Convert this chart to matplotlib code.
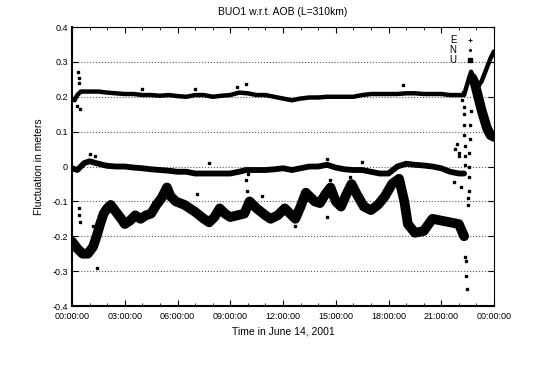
import numpy as np
from matplotlib import pyplot as plt

nan = np.nan

# E component (top band, around 0.2 m)
e_t = [0.0, 0.15, 0.3, 0.5, 1.0, 1.5, 2.0, 2.5, 3.0, 3.5, 4.0, 4.5, 5.0, 5.5, 6.0,
       6.5, 7.0, 7.5, 8.0, 8.5, 9.0, 9.5, 10.0, 10.5, 11.0, 11.5, 12.0, 12.5, 13.0,
       13.5, 14.0, 14.5, 15.0, 15.5, 16.0, 16.5, 17.0, 17.5, 18.0, 18.5, 19.0, 19.5,
       20.0, 20.5, 21.0, 21.5, 22.0, 22.3, 22.5, 22.7, 22.9, 23.1, 23.3, 23.6, 23.8, 24.0]
e_v = [0.195, 0.19, 0.205, 0.215, 0.215, 0.215, 0.212, 0.21, 0.208, 0.208, 0.205, 0.205,
       0.203, 0.205, 0.202, 0.2, 0.205, 0.205, 0.2, 0.203, 0.205, 0.212, 0.21, 0.205,
       0.205, 0.2, 0.195, 0.19, 0.195, 0.198, 0.198, 0.2, 0.2, 0.2, 0.2, 0.205, 0.208,
       0.208, 0.208, 0.208, 0.21, 0.21, 0.208, 0.208, 0.208, 0.205, 0.205, 0.205,
       0.24, 0.272, 0.24, 0.23, 0.245, 0.284, 0.31, 0.33]
e_out_t = [0.35, 0.4, 0.42, 0.3, 0.45, 4.0, 7.0, 9.4, 9.9, 18.8, 22.2, 22.25]
e_out_v = [0.27, 0.255, 0.24, 0.175, 0.165, 0.222, 0.222, 0.228, 0.237, 0.234, 0.19, 0.215]

# N component (middle band, around 0 m)
n_t = [0.0, 0.3, 0.7, 1.0, 1.5, 2.0, 2.5, 3.0, 3.5, 4.0, 4.5, 5.0, 5.5, 6.0, 6.5, 7.0,
       7.5, 8.0, 8.5, 9.0, 9.5, 9.9, 10.2, 10.5, 11.0, 11.5, 12.0, 12.5, 13.0, 13.5,
       14.0, 14.5, 15.0, 15.5, 16.0, 16.5, 17.0, 17.5, 18.0, 18.5, 19.0, 19.5, 20.0,
       20.5, 21.0, 21.5, 22.0, 22.3]
n_v = [-0.005, -0.01, 0.01, 0.015, 0.008, 0.002, 0.0, 0.0, -0.003, -0.005, -0.008,
       -0.01, -0.012, -0.015, -0.015, -0.02, -0.02, -0.02, -0.02, -0.02, -0.015, -0.01,
       -0.01, -0.01, -0.01, -0.008, -0.005, -0.01, -0.005, 0.0, 0.0, 0.005, -0.003,
       -0.008, -0.01, -0.01, -0.015, -0.02, -0.02, 0.0, 0.008, 0.005, 0.003, 0.0,
       -0.005, -0.015, -0.02, -0.02]
n_out_t = [1.0, 1.3, 7.8, 14.5, 16.5, 21.7, 21.8, 21.9, 22.0, 22.1, 22.0,
           22.28, 22.3, 22.3, 22.32, 22.33, 22.35, 22.35]
n_out_v = [0.035, 0.03, 0.01, 0.022, 0.012, -0.045, 0.05, 0.065, 0.04, -0.06, 0.03,
           0.17, 0.15, 0.12, 0.09, 0.06, 0.03, 0.005]

# U component (lower band, gap during the jump at ~22.5 h)
u_t = [0.0, 0.3, 0.6, 0.9, 1.2, 1.4, 1.6, 1.8, 2.0, 2.2, 2.5, 2.8, 3.0, 3.3, 3.6, 3.9,
       4.2, 4.5, 4.8, 5.1, 5.4, 5.6, 5.9, 6.4, 7.0, 7.5, 7.8, 8.1, 8.4, 8.7, 9.0, 9.4,
       9.8, 10.1, 10.5, 11.0, 11.3, 11.7, 12.1, 12.4, 12.7, 13.0, 13.3, 13.5, 13.8,
       14.1, 14.4, 14.7, 15.0, 15.3, 15.6, 15.9, 16.2, 16.6, 17.0, 17.4, 17.8, 18.2,
       18.6, 18.9, 19.1, 19.5, 20.0, 20.5, 21.0, 21.5, 22.0, 22.3, 22.5,
       22.75, 22.9, 23.1, 23.3, 23.6, 23.8, 24.0]
u_v = [-0.215, -0.235, -0.25, -0.25, -0.23, -0.2, -0.165, -0.135, -0.12, -0.11, -0.13,
       -0.15, -0.165, -0.155, -0.14, -0.15, -0.14, -0.135, -0.11, -0.09, -0.06, -0.085,
       -0.1, -0.11, -0.13, -0.15, -0.16, -0.145, -0.12, -0.135, -0.145, -0.14, -0.135,
       -0.1, -0.12, -0.14, -0.15, -0.14, -0.12, -0.135, -0.15, -0.115, -0.075, -0.085,
       -0.1, -0.105, -0.08, -0.06, -0.1, -0.115, -0.08, -0.05, -0.08, -0.115, -0.125,
       -0.11, -0.085, -0.05, -0.035, -0.1, -0.165, -0.19, -0.185, -0.15, -0.155, -0.16,
       -0.165, -0.2, nan,
       0.255, 0.24, 0.2, 0.16, 0.11, 0.09, 0.085]
u_out_t = [0.4, 0.4, 0.45, 1.2, 1.4, 7.1, 9.9, 9.95, 10.0, 10.8, 12.7, 14.5, 14.7, 14.75,
           15.8, 15.85, 18.85, 18.9, 22.35, 22.4, 22.38, 22.45, 22.5, 22.52, 22.55,
           22.56, 22.6, 22.6, 22.62, 22.65, 22.68]
u_out_v = [-0.12, -0.14, -0.16, -0.17, -0.29, -0.08, -0.04, -0.07, -0.02, -0.085,
           -0.17, -0.145, -0.04, -0.07, -0.03, -0.06, -0.07, -0.12, -0.26, -0.27,
           -0.315, -0.35, -0.11, -0.09, -0.07, -0.03, 0.0, 0.04, 0.08, 0.12, 0.16]

hours = [0, 3, 6, 9, 12, 15, 18, 21, 24]
hour_labels = ['00:00:00', '03:00:00', '06:00:00', '09:00:00', '12:00:00',
               '15:00:00', '18:00:00', '21:00:00', '00:00:00']
y_ticks = [-0.4, -0.3, -0.2, -0.1, 0, 0.1, 0.2, 0.3, 0.4]
y_labels = ['-0.4', '-0.3', '-0.2', '-0.1', '0', '0.1', '0.2', '0.3', '0.4']

plt.rcParams['font.family'] = ['Liberation Sans', 'DejaVu Sans']

fig = plt.figure(figsize=(5.56, 3.69), dpi=100)
ax = fig.add_axes([0.1295, 0.1707, 0.759, 0.756])

# noisy bands drawn as thick strokes, sparse points as small squares
ax.plot(e_t, e_v, '-', color='black', lw=3.2, solid_capstyle='round')
ax.plot(n_t, n_v, '-', color='black', lw=4.2, solid_capstyle='round')
ax.plot(u_t, u_v, '-', color='black', lw=7, solid_capstyle='round',
        solid_joinstyle='round')
ax.plot(e_out_t, e_out_v, 's', color='black', ms=1.8)
ax.plot(n_out_t, n_out_v, 's', color='black', ms=1.8)
ax.plot(u_out_t, u_out_v, 's', color='black', ms=1.8)

# legend entries only
ax.plot([], [], '+', color='black', ms=3, mew=0.7, label='E')
ax.plot([], [], '.', color='black', ms=2.5, label='N')
ax.plot([], [], 's', color='black', ms=2.2, label='U')
ax.legend(loc='upper right', bbox_to_anchor=(0.962, 0.985), markerfirst=False,
          frameon=False, fontsize=7, handlelength=0.8, handletextpad=1.0,
          labelspacing=0.0, borderaxespad=0.0)

ax.set_xlim(0, 24)
ax.set_ylim(-0.4, 0.4)
ax.set_xticks(hours)
ax.set_xticklabels(hour_labels)
ax.set_xticks(range(25), minor=True)
ax.set_yticks(y_ticks)
ax.set_yticklabels(y_labels)
ax.tick_params(which='both', direction='in', top=True, right=True, labelsize=6.5)
ax.tick_params(axis='x', pad=4)
ax.tick_params(axis='y', pad=3)
ax.tick_params(which='major', length=4)
ax.tick_params(which='minor', length=2)
ax.yaxis.grid(True, linestyle=':', color='0.35', lw=0.8)

for side in ['top', 'right']:
    ax.spines[side].set_linewidth(0.8)
for side in ['left', 'bottom']:
    ax.spines[side].set_linewidth(1.5)

ax.set_title('BUO1 w.r.t. AOB (L=310km)', fontsize=7.5, pad=9)
ax.set_xlabel('Time in June 14, 2001', fontsize=7.5, labelpad=4)
ax.set_ylabel('Fluctuation in meters', fontsize=7.5, labelpad=6)

fig.savefig('out.png', dpi=100)
